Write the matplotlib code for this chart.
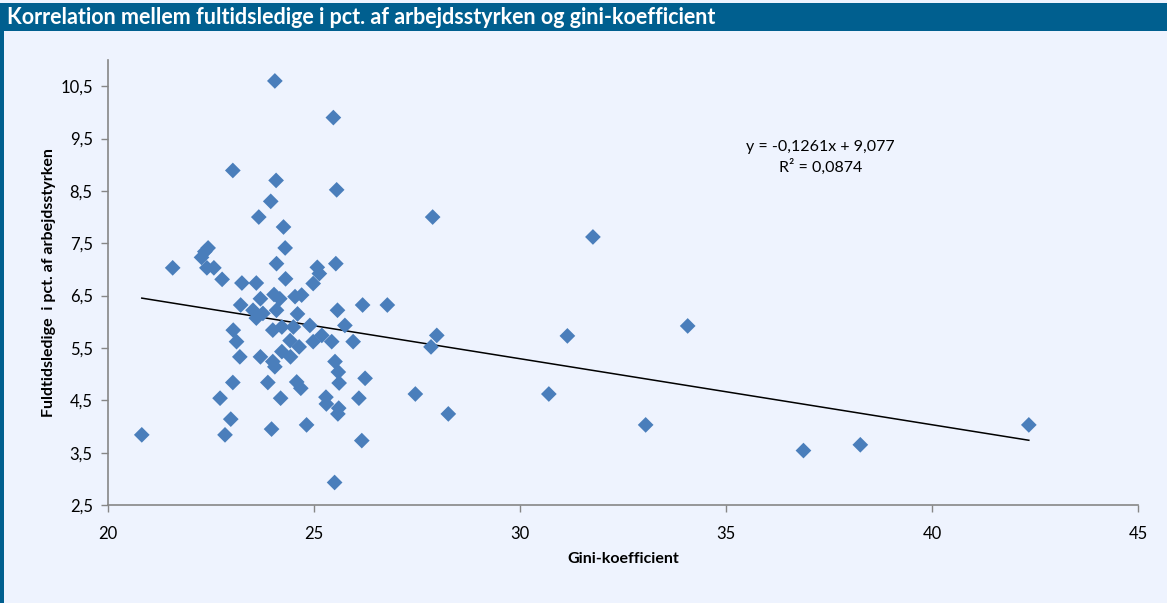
import numpy as np
import matplotlib.pyplot as plt
from matplotlib.patches import Rectangle
from matplotlib.ticker import FuncFormatter

plt.rcParams['font.family'] = ['Lato', 'DejaVu Sans']

# Gini-koefficient (x) og fuldtidsledige i pct. af arbejdsstyrken (y)
gini = [24.05, 25.47, 23.03, 24.08, 25.55, 23.95, 23.66, 27.88, 24.26, 31.77,
        24.30, 22.43, 22.35, 22.27, 21.57, 22.40, 22.57, 24.09, 25.53, 25.08,
        25.13, 22.77, 23.25, 23.60, 24.31, 24.98, 24.03, 24.17, 24.54, 24.70,
        23.70, 23.22, 24.09, 25.57, 26.18, 26.78, 23.52, 23.76, 23.60, 24.60,
        24.00, 24.22, 24.50, 24.90, 25.75, 23.04, 23.12, 24.42, 24.64, 24.98,
        25.19, 25.43, 25.95, 27.98, 27.84, 31.15, 34.07, 23.20, 23.70, 24.22,
        24.43, 24.00, 24.05, 25.51, 25.59, 25.61, 26.24, 23.03, 23.88, 24.58,
        24.68, 27.46, 30.70, 22.72, 24.19, 25.29, 25.30, 26.09, 25.60, 25.58,
        28.26, 22.98, 24.82, 33.05, 42.35, 23.97, 22.84, 20.82, 26.16, 38.26,
        36.88, 25.50]
ledige = [10.60, 9.90, 8.89, 8.70, 8.52, 8.30, 8.00, 8.00, 7.81, 7.62,
          7.41, 7.41, 7.34, 7.23, 7.03, 7.03, 7.03, 7.11, 7.11, 7.04,
          6.92, 6.81, 6.74, 6.74, 6.82, 6.73, 6.52, 6.44, 6.48, 6.51,
          6.44, 6.32, 6.22, 6.22, 6.32, 6.32, 6.22, 6.16, 6.07, 6.15,
          5.84, 5.90, 5.90, 5.93, 5.93, 5.84, 5.62, 5.64, 5.52, 5.62,
          5.74, 5.62, 5.62, 5.74, 5.52, 5.73, 5.92, 5.33, 5.33, 5.43,
          5.33, 5.24, 5.14, 5.24, 5.04, 4.83, 4.92, 4.84, 4.84, 4.85,
          4.73, 4.62, 4.62, 4.54, 4.54, 4.56, 4.43, 4.54, 4.35, 4.24,
          4.24, 4.14, 4.03, 4.03, 4.03, 3.95, 3.84, 3.84, 3.73, 3.65,
          3.54, 2.93]

# trendlinje fra Excel
slope = -0.1261
intercept = 9.077
r2 = 0.0874

bg = '#EEF3FE'
bar_blue = '#005F8F'
marker_blue = '#4A7EBB'
grey = '#868686'

fig = plt.figure(figsize=(11.67, 6.03), dpi=100, facecolor=bg)

# titelbjælke og venstre kant
fig.patches.append(Rectangle((0, 1 - 31 / 603), 1, 28 / 603, transform=fig.transFigure,
                             facecolor=bar_blue, edgecolor='none', zorder=0))
fig.patches.append(Rectangle((0, 0), 4 / 1167, 1 - 31 / 603, transform=fig.transFigure,
                             facecolor=bar_blue, edgecolor='none', zorder=0))
fig.text(7 / 1167, 1 - 18 / 603, 'Korrelation mellem fultidsledige i pct. af arbejdsstyrken og gini-koefficient',
         color='white', fontsize=15.5, fontweight='bold', va='center', ha='left')

ax = fig.add_axes([108 / 1167, 1 - 505 / 603, 1030 / 1167, 445 / 603])
ax.set_facecolor(bg)

ax.scatter(gini, ledige, marker='D', s=64, color=marker_blue, edgecolors='none', zorder=3)

xs = np.array([min(gini), max(gini)])
ax.plot(xs, slope * xs + intercept, color='black', lw=1.1, zorder=2)

ax.set_xlim(20, 45)
ax.set_ylim(2.5, 11.0)
ax.set_xticks(np.arange(20, 46, 5))
ax.set_yticks(np.arange(2.5, 10.6, 1.0))
ax.yaxis.set_major_formatter(FuncFormatter(lambda v, p: f'{v:.1f}'.replace('.', ',')))

for s in ['top', 'right']:
    ax.spines[s].set_visible(False)
for s in ['left', 'bottom']:
    ax.spines[s].set_color(grey)
    ax.spines[s].set_linewidth(1.2)
ax.tick_params(axis='both', direction='out', length=5, width=1, color=grey,
               labelsize=12, labelcolor='black')
ax.tick_params(axis='x', pad=10)
ax.tick_params(axis='y', pad=6)

ax.set_xlabel('Gini-koefficient', fontsize=11.5, fontweight='bold', labelpad=7)
ax.set_ylabel('Fuldtidsledige  i pct. af arbejdsstyrken', fontsize=11.5, fontweight='bold', labelpad=3)

eq = f'y = {slope:.4f}x + {intercept:.3f}'.replace('.', ',')
ax.text(37.3, 9.14, eq + '\n' + f'R² = {r2:.4f}'.replace('.', ','),
        ha='center', va='center', fontsize=11.5, linespacing=1.4)

plt.savefig('out.png', dpi=100, facecolor=bg)
